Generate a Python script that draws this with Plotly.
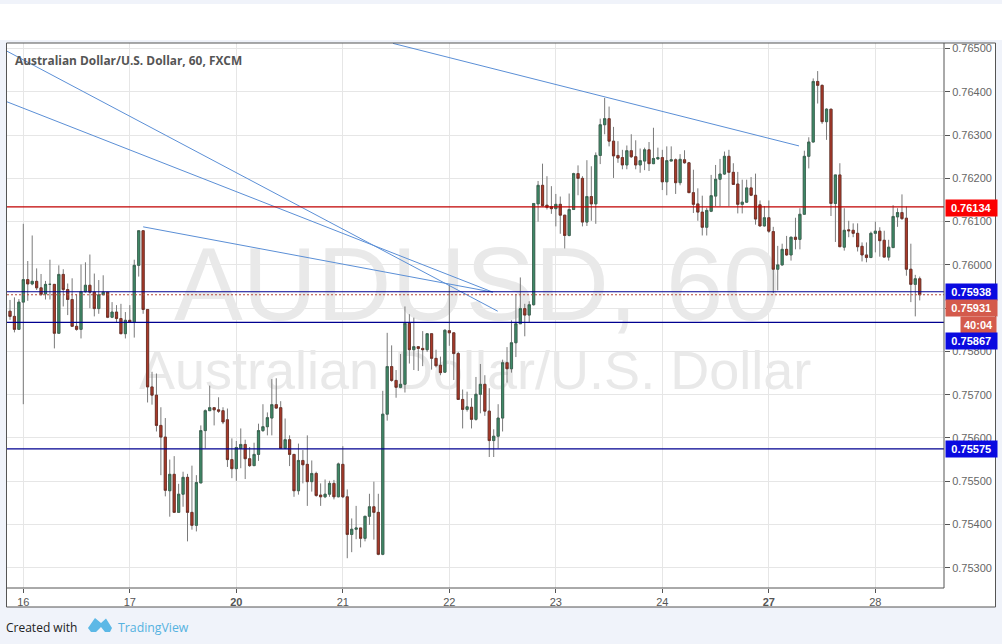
import plotly.graph_objects as go

W, H = 1002, 644

# Hourly AUD/USD prices, in units of 0.00001
open_units = [
75893,75881,75851,75914,75966,75956,75962,75947,75933,75955,75955,75842,75978,75943,75920,75858,
75851,75938,75953,75937,75899,75931,75937,75879,75891,75876,75841,75872,75868,75999,76079,75897,
75718,75699,75629,75602,75478,75516,75428,75470,75509,75428,75398,75496,75617,75663,75670,75665,
75663,75642,75550,75529,75576,75585,75552,75536,75562,75617,75626,75646,75677,75670,75576,75596,
75562,75478,75548,75539,75499,75518,75468,75464,75470,75495,75464,75539,75464,75377,75389,75392,
75368,75419,75441,75428,75331,75655,75765,75733,75717,75724,75865,75804,75811,75807,75804,75841,
75784,75768,75752,75848,75843,75795,75689,75666,75671,75643,75701,75724,75662,75594,75604,75646,
75774,75760,75820,75864,75899,75884,75908,76141,76184,76138,76135,76130,76140,76115,76068,76128,
76211,76200,76099,76158,76141,76253,76324,76338,76286,76253,76248,76231,76264,76250,76231,76240,
76266,76234,76245,76248,76192,76240,76243,76190,76243,76236,76167,76141,76122,76087,76124,76159,
76198,76210,76251,76214,76187,76140,76145,76178,76161,76139,76090,76109,76077,75990,76000,76036,
76023,76064,76059,76117,76251,76284,76424,76415,76331,76360,76142,76208,76041,76081,76080,76073,
76043,76023,76017,76073,76078,76057,76018,76040,76111,76121,76108,75990,75955,75968]
high_units = [
75919,75925,75921,76095,76009,76068,75992,75979,75963,76012,75955,75999,75990,75957,75969,75932,
76001,76006,76024,75980,75965,75976,75937,75914,75907,75910,75891,75907,76012,76079,76079,75898,
75753,75749,75671,75646,75550,75558,75494,75522,75517,75536,75514,75629,75666,75721,75670,75694,
75671,75668,75599,75593,75622,75596,75579,75589,75633,75678,75659,75736,75738,75685,75645,75606,
75562,75587,75572,75606,75548,75522,75495,75504,75501,75503,75543,75581,75481,75414,75443,75392,
75419,75471,75499,75471,75709,75843,75814,75757,75794,75904,75886,75878,75811,75847,75841,75841,
75804,75788,75851,75955,75843,75799,75712,75707,75692,75741,75771,75745,75715,75620,75678,75781,
75810,75872,75933,75971,75910,75916,76142,76194,76234,76205,76182,76164,76158,76115,76165,76213,
76230,76205,76242,76228,76260,76338,76386,76366,76319,76286,76266,76276,76302,76288,76269,76271,
76284,76317,76271,76266,76274,76274,76246,76256,76265,76238,76220,76177,76160,76132,76208,76231,
76245,76262,76266,76235,76215,76197,76197,76203,76211,76149,76136,76149,76088,76044,76049,76067,
76065,76109,76131,76264,76295,76431,76448,76417,76362,76360,76208,76235,76131,76102,76096,76096,
76052,76052,76077,76100,76087,76079,76058,76138,76131,76163,76135,76049,75977,75973]
low_units = [
75873,75844,75850,75678,75917,75953,75942,75928,75920,75920,75807,75842,75904,75884,75858,75848,
75830,75936,75900,75881,75887,75930,75877,75877,75868,75840,75830,75867,75832,75973,75887,75682,
75677,75615,75514,75465,75418,75428,75428,75441,75361,75388,75384,75496,75576,75663,75629,75658,
75632,75533,75507,75501,75530,75505,75533,75536,75547,75614,75606,75606,75668,75576,75576,75535,
75464,75469,75495,75443,75476,75464,75443,75461,75464,75458,75463,75461,75322,75336,75366,75347,
75361,75399,75365,75329,75329,75640,75730,75693,75715,75705,75772,75757,75755,75766,75799,75758,
75763,75745,75752,75813,75734,75689,75622,75661,75622,75640,75657,75651,75556,75556,75576,75615,
75728,75751,75787,75864,75835,75868,75906,76100,76135,76128,76118,76089,76072,76038,76066,76128,
76161,76089,76090,76102,76095,76233,76302,76274,76201,76236,76221,76221,76247,76221,76213,76219,
76217,76233,76243,76173,76161,76240,76164,76184,76234,76167,76120,76102,76068,76068,76122,76136,
76136,76208,76136,76185,76119,76119,76143,76159,76093,76089,76089,76074,75935,75941,75998,76021,
76010,76036,76036,76116,76223,76283,76373,76326,76289,76113,76053,76042,76033,76064,76064,76031,
76008,76006,76017,76029,76019,76018,76010,76040,76088,76104,75975,75914,75881,75918]
close_units = [
75881,75851,75914,75966,75956,75962,75947,75932,75955,75955,75842,75978,75943,75920,75858,75851,
75938,75953,75937,75899,75931,75937,75879,75891,75876,75841,75872,75868,75999,76079,75897,75718,
75699,75629,75602,75479,75516,75428,75470,75509,75428,75398,75497,75617,75663,75670,75665,75662,
75637,75550,75529,75578,75585,75552,75536,75562,75617,75626,75647,75677,75669,75576,75596,75562,
75478,75548,75538,75499,75518,75467,75464,75470,75495,75464,75540,75464,75377,75389,75392,75368,
75419,75441,75428,75331,75655,75765,75733,75717,75724,75865,75804,75811,75807,75804,75841,75784,
75767,75751,75849,75843,75795,75689,75666,75672,75643,75701,75724,75662,75594,75604,75646,75774,
75760,75820,75864,75899,75884,75908,76142,76184,76137,76133,76130,76140,76115,76068,76128,76211,
76200,76099,76158,76141,76253,76324,76338,76286,76252,76247,76231,76264,76250,76231,76241,76266,
76234,76246,76248,76192,76241,76243,76190,76244,76236,76167,76140,76122,76087,76126,76160,76198,
76210,76251,76214,76186,76140,76145,76178,76161,76106,76090,76109,76078,75990,76000,76036,76023,
76064,76059,76117,76251,76284,76424,76415,76331,76360,76142,76208,76042,76080,76079,76073,76042,
76023,76017,76073,76078,76056,76018,76041,76112,76121,76107,75990,75955,75968,75931]

tick_positions = [3, 27, 51, 75, 99, 123, 147, 171, 195]
tick_labels = ["16", "17", "<b>20</b>", "21", "22", "23", "24", "<b>27</b>", "28"]
price_ticks = [0.753, 0.754, 0.755, 0.756, 0.757, 0.758, 0.759, 0.760, 0.761, 0.762, 0.763, 0.764, 0.765]

level_red = 0.76134
levels_blue = [0.75938, 0.75867, 0.75575]
last_price = 0.75931

trend_a_x, trend_a_y = [-0.68, 109.9], [0.76494, 0.75893]
trend_b_x, trend_b_y = [-0.68, 108.8], [0.76377, 0.75937]
trend_c_x, trend_c_y = [30.0, 108.8], [0.76088, 0.75937]
trend_d_x, trend_d_y = [86.3, 177.8], [0.76512, 0.76275]

opens = [v / 1e5 for v in open_units]
highs = [v / 1e5 for v in high_units]
lows = [v / 1e5 for v in low_units]
closes = [v / 1e5 for v in close_units]
n = len(opens)
xs = list(range(n))

PL, PR, PT, PB = 7, 944, 43, 588
XR = [-0.676, 210.47]
YR = [0.752532, 0.765129]
BG = "#f0f3fa"
GRID = "#e6e6e6"
AXC = "#555555"


def fx(p):
    return p / W


def fy(p):
    return 1 - p / H


GREEN = "#3f8a68"
RED = "#a93a2a"
WICK = "#7a7a7a"

fig = go.Figure()

# watermark under everything, on the base axes
fig.add_trace(go.Scatter(x=[105.3], y=[0.75933], mode="text", text=["AUDUSD, 60"],
                         textfont=dict(family="Liberation Sans", size=103, color="#e9e9e9"),
                         textposition="middle center", hoverinfo="skip", showlegend=False))
fig.add_trace(go.Scatter(x=[104.8], y=[0.75745], mode="text", text=["Australian Dollar/U.S. Dollar"],
                         textfont=dict(family="Liberation Sans", size=54, color="#e9e9e9"),
                         textposition="middle center", hoverinfo="skip", showlegend=False))

# wicks
fig.add_trace(go.Candlestick(x=xs, open=opens, high=highs, low=lows, close=closes,
                             xaxis="x2", yaxis="y2", whiskerwidth=0,
                             increasing=dict(line=dict(color=WICK, width=1), fillcolor=WICK),
                             decreasing=dict(line=dict(color=WICK, width=1), fillcolor=WICK),
                             hoverinfo="skip", showlegend=False))
# bodies
body_hi = [max(o, c) for o, c in zip(opens, closes)]
body_lo = [min(o, c) for o, c in zip(opens, closes)]
fig.add_trace(go.Candlestick(x=xs, open=opens, high=body_hi, low=body_lo, close=closes,
                             xaxis="x2", yaxis="y2", whiskerwidth=0,
                             increasing=dict(line=dict(color="#35604c", width=0.7), fillcolor=GREEN),
                             decreasing=dict(line=dict(color="#6b2a20", width=0.7), fillcolor=RED),
                             hoverinfo="skip", showlegend=False))

for tx, ty in [(trend_a_x, trend_a_y), (trend_b_x, trend_b_y), (trend_c_x, trend_c_y), (trend_d_x, trend_d_y)]:
    fig.add_trace(go.Scatter(x=tx, y=ty, mode="lines", xaxis="x2", yaxis="y2",
                             line=dict(color="#5b8fd6", width=1), hoverinfo="skip", showlegend=False))

shapes = [
    dict(type="rect", xref="paper", yref="paper", x0=0, x1=1, y0=fy(40), y1=fy(4),
         fillcolor="white", line_width=0, layer="below"),
    dict(type="rect", xref="paper", yref="paper", x0=fx(PR), x1=fx(995), y0=fy(PB), y1=fy(PT),
         fillcolor="white", line_width=0, layer="below"),
    dict(type="rect", xref="paper", yref="paper", x0=fx(PL), x1=fx(995), y0=fy(607), y1=fy(PB),
         fillcolor="white", line_width=0, layer="below"),
    dict(type="line", xref="x", yref="y", x0=XR[0], x1=XR[1], y0=level_red, y1=level_red,
         line=dict(color="#c00000", width=1.2)),
    dict(type="line", xref="x", yref="y", x0=XR[0], x1=XR[1], y0=last_price, y1=last_price,
         line=dict(color="#b5483c", width=1, dash="2px,2px")),
]
for lv in levels_blue:
    shapes.append(dict(type="line", xref="x", yref="y", x0=XR[0], x1=XR[1], y0=lv, y1=lv,
                       line=dict(color="#000090", width=1.2)))
# frame
for x0, y0, x1, y1 in [(6.5, 43, 995.5, 43), (6.5, 43, 6.5, 607), (6.5, 607, 995.5, 607),
                       (995.5, 43, 995.5, 607), (6.5, 588, 944, 588), (944, 43, 944, 588)]:
    shapes.append(dict(type="line", xref="paper", yref="paper", x0=fx(x0), x1=fx(x1), y0=fy(y0), y1=fy(y1),
                       line=dict(color=AXC, width=1)))
# logo cloud
logo = [(88, 628), (95, 618), (101, 623), (106, 618.5), (112, 628), (110, 632), (105, 632), (101, 627),
        (96, 632), (91, 632)]
path = "M " + " L ".join(f"{fx(a):.5f},{fy(b):.5f}" for a, b in logo) + " Z"
shapes.append(dict(type="path", xref="paper", yref="paper", path=path, fillcolor="#5cb8e6", line_width=0))


def box(text, y0, y1, color, x0=944.5):
    return dict(xref="paper", yref="paper", x=fx(x0), y=fy((y0 + y1) / 2), xanchor="left", yanchor="middle",
                text=f"<b>{text}</b>", showarrow=False, bgcolor=color, borderpad=0,
                width=995 - x0, height=y1 - y0, align="center", font=dict(family="Liberation Sans", size=11, color="white"))


annotations = [
    box("0.76134", 200, 215.5, "#fb0000"),
    box("0.75938", 284, 299.5, "#0a0ae0"),
    box("0.75931", 300, 316, "#d45a4c"),
    box("40:04", 317, 332.5, "#d45a4c", x0=960),
    box("0.75867", 333, 349, "#0a0ae0"),
    box("0.75575", 441, 457, "#0a0ae0"),
    dict(xref="paper", yref="paper", x=fx(13), y=fy(60), xanchor="left", yanchor="middle", showarrow=False,
         text="<b>Australian Dollar/U.S. Dollar, 60, FXCM</b>",
         font=dict(family="Open Sans", size=11.9, color="#555555")),
    dict(xref="paper", yref="paper", x=fx(4), y=fy(627), xanchor="left", yanchor="middle", showarrow=False,
         text="Created with", font=dict(family="Open Sans", size=12, color="#222222")),
    dict(xref="paper", yref="paper", x=fx(116), y=fy(627), xanchor="left", yanchor="middle", showarrow=False,
         text="TradingView", font=dict(family="Open Sans", size=12.3, color="#55b2e0")),
]

fig.update_layout(
    width=W, height=H, margin=dict(l=0, r=0, t=0, b=0), autosize=False,
    paper_bgcolor=BG, plot_bgcolor="white", showlegend=False, boxmode="overlay", boxgap=0.3,
    shapes=shapes, annotations=annotations,
    xaxis=dict(domain=[fx(PL), fx(PR)], range=XR, tickmode="array", tickvals=tick_positions, ticktext=tick_labels,
               showgrid=True, gridcolor=GRID, gridwidth=1, zeroline=False, showline=False, ticks="outside",
               ticklen=4, tickcolor=AXC, tickfont=dict(family="Liberation Sans", size=11, color="#555555"),
               rangeslider=dict(visible=False), fixedrange=True),
    yaxis=dict(domain=[fy(PB), fy(PT)], range=YR, side="right", tickmode="array", tickvals=price_ticks,
               ticktext=[f"{p:.5f}" for p in price_ticks], showgrid=True, gridcolor=GRID, gridwidth=1,
               zeroline=False, showline=False, ticks="outside", ticklen=5, tickcolor=AXC,
               tickfont=dict(family="Liberation Sans", size=11, color="#666666"), fixedrange=True),
    xaxis2=dict(overlaying="x", anchor="y2", range=XR, visible=False, rangeslider=dict(visible=False), fixedrange=True),
    yaxis2=dict(overlaying="y", anchor="x2", range=YR, visible=False, fixedrange=True),
)

fig.write_html("out.html", config=dict(displayModeBar=False), post_script="document.body.style.margin='0';")
